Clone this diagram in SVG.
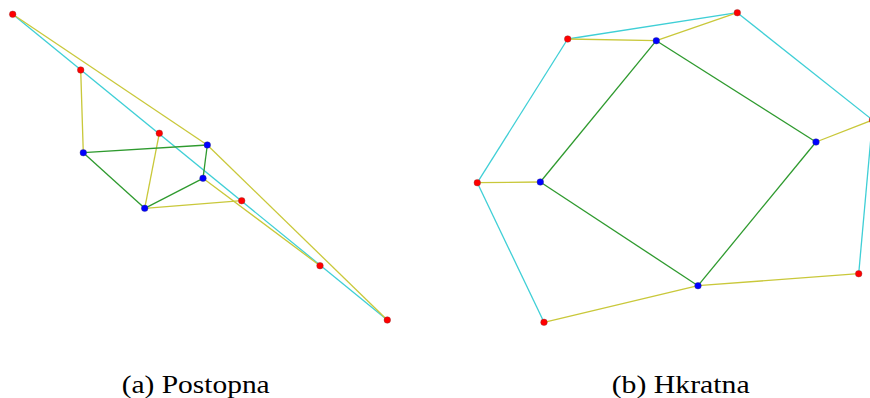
<svg xmlns="http://www.w3.org/2000/svg" width="870" height="398" viewBox="0 0 870 398">
<style>
.c{stroke:#3fcfd6;stroke-width:1.3;fill:none}
.y{stroke:#c9c83a;stroke-width:1.3;fill:none}
.g{stroke:#2e9a2e;stroke-width:1.3;fill:none}
.r{fill:#ff0000;stroke:#8a3030;stroke-width:0.4}
.b{fill:#0000ff;stroke:#303080;stroke-width:0.4}
.cap{font-family:"Liberation Serif","DejaVu Serif",serif;font-size:26px;fill:#000}
</style>
<rect width="870" height="398" fill="#fff"/>
<g id="edges-a">
<line class="c" x1="12.7" y1="14.3" x2="387.3" y2="320"/>
<line class="y" x1="12.7" y1="14.3" x2="207.3" y2="145"/>
<line class="y" x1="207.3" y1="145" x2="387.3" y2="320"/>
<line class="y" x1="80.7" y1="70" x2="83.3" y2="152.7"/>
<line class="y" x1="159.3" y1="133.3" x2="144.7" y2="208.3"/>
<line class="y" x1="144.7" y1="208.3" x2="241.7" y2="200.7"/>
<line class="y" x1="203" y1="178.3" x2="320" y2="265.7"/>
<line class="g" x1="83.3" y1="152.7" x2="207.3" y2="145"/>
<line class="g" x1="83.3" y1="152.7" x2="144.7" y2="208.3"/>
<line class="g" x1="144.7" y1="208.3" x2="203" y2="178.3"/>
<line class="g" x1="203" y1="178.3" x2="207.3" y2="145"/>
</g>
<g id="edges-b">
<line class="c" x1="567.7" y1="39" x2="737.3" y2="12.7"/>
<line class="c" x1="737.3" y1="12.7" x2="872.5" y2="120"/>
<line class="c" x1="872.5" y1="120" x2="858.7" y2="273.7"/>
<line class="c" x1="567.7" y1="39" x2="477.3" y2="182.7"/>
<line class="c" x1="477.3" y1="182.7" x2="544" y2="322.3"/>
<line class="y" x1="567.7" y1="39" x2="656.3" y2="40.7"/>
<line class="y" x1="656.3" y1="40.7" x2="737.3" y2="12.7"/>
<line class="y" x1="816" y1="142" x2="872.5" y2="120"/>
<line class="y" x1="477.3" y1="182.7" x2="540.3" y2="182"/>
<line class="y" x1="544" y1="322.3" x2="698" y2="285.7"/>
<line class="y" x1="698" y1="285.7" x2="858.7" y2="273.7"/>
<line class="g" x1="656.3" y1="40.7" x2="540.3" y2="182"/>
<line class="g" x1="656.3" y1="40.7" x2="816" y2="142"/>
<line class="g" x1="540.3" y1="182" x2="698" y2="285.7"/>
<line class="g" x1="816" y1="142" x2="698" y2="285.7"/>
</g>
<g id="nodes-a">
<circle id="a-r1" class="r" cx="12.7" cy="14.3" r="3.3"/>
<circle id="a-r2" class="r" cx="80.7" cy="70" r="3.3"/>
<circle id="a-r3" class="r" cx="159.3" cy="133.3" r="3.3"/>
<circle id="a-r4" class="r" cx="241.7" cy="200.7" r="3.3"/>
<circle id="a-r5" class="r" cx="320" cy="265.7" r="3.3"/>
<circle id="a-r6" class="r" cx="387.3" cy="320" r="3.3"/>
<circle id="a-b1" class="b" cx="83.3" cy="152.7" r="3.3"/>
<circle id="a-b2" class="b" cx="207.3" cy="145" r="3.3"/>
<circle id="a-b3" class="b" cx="203" cy="178.3" r="3.3"/>
<circle id="a-b4" class="b" cx="144.7" cy="208.3" r="3.3"/>
</g>
<g id="nodes-b">
<circle id="b-r1" class="r" cx="567.7" cy="39" r="3.3"/>
<circle id="b-r2" class="r" cx="737.3" cy="12.7" r="3.3"/>
<circle id="b-r3" class="r" cx="872.5" cy="120" r="3.3"/>
<circle id="b-r4" class="r" cx="477.3" cy="182.7" r="3.3"/>
<circle id="b-r5" class="r" cx="858.7" cy="273.7" r="3.3"/>
<circle id="b-r6" class="r" cx="544" cy="322.3" r="3.3"/>
<circle id="b-b1" class="b" cx="656.3" cy="40.7" r="3.3"/>
<circle id="b-b2" class="b" cx="816" cy="142" r="3.3"/>
<circle id="b-b3" class="b" cx="540.3" cy="182" r="3.3"/>
<circle id="b-b4" class="b" cx="698" cy="285.7" r="3.3"/>
</g>
<g id="captions">
<text class="cap" x="121.7" y="392.7" textLength="148" lengthAdjust="spacingAndGlyphs">(a) Postopna</text>
<text class="cap" x="611.7" y="392.7" textLength="138" lengthAdjust="spacingAndGlyphs">(b) Hkratna</text>
</g>
</svg>
